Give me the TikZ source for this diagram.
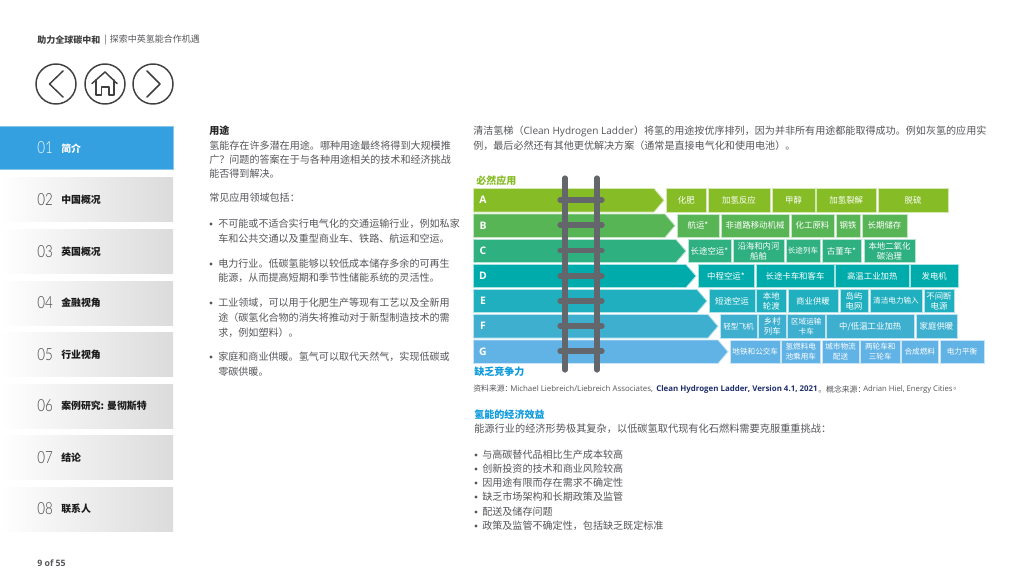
\documentclass[tikz,border=0pt]{standalone}
\usepackage{fontspec}
\setmainfont{Noto Sans CJK SC}
\newfontfamily\lat{Open Sans}
\newfontfamily\thinf{Lato Light}
\usetikzlibrary{calc}
\definecolor{cA}{HTML}{86BC25}\definecolor{cB}{HTML}{58B556}\definecolor{cC}{HTML}{2FB080}
\definecolor{cD}{HTML}{00ABAB}\definecolor{cE}{HTML}{20AFBF}\definecolor{cF}{HTML}{3FAFD0}\definecolor{cG}{HTML}{62B3E5}
\definecolor{body}{HTML}{55565A}\definecolor{rail}{HTML}{63666A}\definecolor{navy}{HTML}{1F2F6B}\definecolor{hblue}{HTML}{0D9BDD}
\definecolor{icon}{HTML}{404042}\definecolor{navblue}{HTML}{35A0DF}
\newcommand{\sm}{\fontsize{5.7}{7.6}\selectfont}
\tikzset{
 txt/.style={anchor=west,inner sep=0pt,text=body,font=\fontsize{7.55}{9}\selectfont},
 head/.style={txt,text=black!85,font=\fontsize{7.55}{9}\selectfont\bfseries},
 srctxt/.style={anchor=west,inner sep=0pt,text=body,font=\fontsize{5.9}{7}\selectfont},
 bul/.style={circle,fill=body,inner sep=0pt,minimum size=2.4pt},
 cell/.style={draw=#1!35!white,fill=#1,line width=.6pt},
 celltext/.style={text=white,align=center,inner sep=0pt,font=\fontsize{6.3}{7.6}\selectfont},
 smalltext/.style={text=white,align=center,inner sep=0pt,font=\sm},
 arrowbar/.style={draw=#1!35!white,fill=#1,line width=.6pt},
 navnum/.style={anchor=west,inner sep=0pt,font=\fontsize{12.5}{14}\thinf,text=black!75},
 navlab/.style={anchor=west,inner sep=0pt,font=\fontsize{7.4}{9}\selectfont\bfseries,text=black!90},
 navbox/.style={left color=white,right color=black!14,draw=none},
 ic/.style={draw=icon,line width=1.1pt,line join=round,line cap=round},
 railline/.style={draw=rail,line width=3.9pt,line cap=round},
}
\newcommand{\cellbox}[6]{\draw[cell=#5] (#1,#3) rectangle (#2,#4) node[midway,celltext]{#6};}
\newcommand{\smallcell}[6]{\draw[cell=#5] (#1,#3) rectangle (#2,#4) node[midway,smalltext]{#6};}
\newcommand{\ladderbar}[5]{\draw[arrowbar=#4] (473.5,#1) -- (#3-10,#1) -- (#3,{(#1+#2)/2}) -- (#3-10,#2) -- (473.5,#2) -- cycle;
 \node[anchor=center,inner sep=0pt,text=white,font=\fontsize{7.8}{9}\lat\bfseries] at (483,{(#1+#2)/2}) {#5};}
\newcommand{\navrow}[3]{\fill[navbox] (0,#1) rectangle (173,#1+44);
 \node[navnum] (num#2) at (37,#1+22) {\scalebox{.8}[1]{#2}};
 \node[navlab] (lab#2) at (61,#1+22) {#3};}
\begin{document}
\begin{tikzpicture}[x=.75pt,y=-.75pt]
\useasboundingbox (0,0) rectangle (1024,576);
\fill[white] (0,0) rectangle (1024,576);
% header
\node[anchor=west,inner sep=0pt,font=\fontsize{6.75}{8}\selectfont\bfseries,text=black!75] (title) at (37,40) {助力全球碳中和};
\node[anchor=west,inner sep=0pt,font=\fontsize{6.75}{8}\selectfont,text=body] (title2) at (104,40) {|\hspace{2.4pt}探索中英氢能合作机遇};
% icons
\draw[ic] (56,84) circle (20);
\draw[ic] (105,84) circle (20);
\draw[ic] (153,84) circle (20);
\draw[ic] (63,71) -- (49.5,84) -- (63,97);
\draw[ic] (147,71) -- (160,84) -- (147,97);
\draw[ic] (92,83.5) -- (105,72) -- (117,83.5);
\draw[ic] (96,80) -- (96,95) -- (101.5,95) -- (101.5,87) -- (109,87) -- (109,95) -- (114,95) -- (114,80);
% nav
\fill[fill=navblue,draw=navblue!60!white,line width=.5pt] (-1,126) rectangle (173,169.5);
\node[navnum,text=white] (num01) at (37,148) {\scalebox{.8}[1]{01}};
\node[navlab,text=white] (lab01) at (61,149) {简介};
\navrow{177.5}{02}{中国概况}
\navrow{229.5}{03}{英国概况}
\navrow{281}{04}{金融视角}
\navrow{332.5}{05}{行业视角}
\navrow{384}{06}{案例研究: 曼彻斯特}
\navrow{435.5}{07}{结论}
\navrow{487}{08}{联系人}
% page no
\node[anchor=west,inner sep=0pt,font=\fontsize{6.6}{8}\lat\bfseries,text=body] (page) at (37,563) {9 of 55};
% left column
\node[head] (u0) at (209,131) {用途};
\node[txt] (u1) at (209,146) {氢能存在许多潜在用途。哪种用途最终将得到大规模推};
\node[txt] (u2) at (209,160) {广？问题的答案在于与各种用途相关的技术和经济挑战};
\node[txt] (u3) at (209,174) {能否得到解决。};
\node[txt] (u4) at (209,198) {常见应用领域包括：};
\foreach \y in {224,264,303,357} \node[bul] at (211,\y) {};
\node[txt] at (218,224) {不可能或不适合实行电气化的交通运输行业，例如私家};
\node[txt] at (218,239) {车和公共交通以及重型商业车、铁路、航运和空运。};
\node[txt] at (218,264) {电力行业。低碳氢能够以较低成本储存多余的可再生};
\node[txt] at (218,278) {能源，从而提高短期和季节性储能系统的灵活性。};
\node[txt] at (218,303) {工业领域，可以用于化肥生产等现有工艺以及全新用};
\node[txt] at (218,318) {途（碳氢化合物的消失将推动对于新型制造技术的需};
\node[txt] at (218,333) {求，例如塑料）。};
\node[txt] at (218,357) {家庭和商业供暖。氢气可以取代天然气，实现低碳或};
\node[txt] at (218,372) {零碳供暖。};
% right text
\node[txt] (r1) at (473,131) {清洁氢梯（{\lat Clean Hydrogen Ladder}）将氢的用途按优序排列，因为并非所有用途都能取得成功。例如灰氢的应用实};
\node[txt] (r2) at (473,146) {例，最后必然还有其他更优解决方案（通常是直接电气化和使用电池）。};
\node[anchor=west,inner sep=0pt,font=\fontsize{7.5}{9}\selectfont\bfseries,text=cA] (must) at (476,181) {必然应用};
\node[anchor=west,inner sep=0pt,font=\fontsize{7.5}{9}\selectfont\bfseries,text=hblue] (lack) at (474,372) {缺乏竞争力};
% bars
\ladderbar{188.5}{212}{664}{cA}{A}
\ladderbar{214}{237.5}{675}{cB}{B}
\ladderbar{239.5}{262.5}{686}{cC}{C}
\ladderbar{264.5}{287.5}{696}{cD}{D}
\ladderbar{289.5}{312.5}{707}{cE}{E}
\ladderbar{314.5}{338}{718}{cF}{F}
\ladderbar{340}{363.5}{728}{cG}{G}
% cells
\cellbox{666.5}{706}{188.5}{212}{cA}{化肥}
\cellbox{708}{770}{188.5}{212}{cA}{加氢反应}
\cellbox{772}{815}{188.5}{212}{cA}{甲醇}
\cellbox{816.5}{876}{188.5}{212}{cA}{加氢裂解}
\cellbox{878}{948}{188.5}{212}{cA}{脱硫}
\cellbox{677}{719}{214}{237.5}{cB}{航运*}
\cellbox{721}{789}{214}{237.5}{cB}{非道路移动机械}
\cellbox{791}{834}{214}{237.5}{cB}{化工原料}
\cellbox{836}{860}{214}{237.5}{cB}{钢铁}
\cellbox{862}{907}{214}{237.5}{cB}{长期储存}
\cellbox{688}{731}{239.5}{262.5}{cC}{长途空运*}
\cellbox{733}{784}{239.5}{262.5}{cC}{沿海和内河\\船舶}
\smallcell{786}{820}{239.5}{262.5}{cC}{长途列车}
\cellbox{822}{861}{239.5}{262.5}{cC}{古董车*}
\cellbox{864}{915}{239.5}{262.5}{cC}{本地二氧化\\碳治理}
\cellbox{698}{754}{264.5}{287.5}{cD}{中程空运*}
\cellbox{756}{834}{264.5}{287.5}{cD}{长途卡车和客车}
\cellbox{835.5}{909}{264.5}{287.5}{cD}{高温工业加热}
\cellbox{910.5}{958}{264.5}{287.5}{cD}{发电机}
\cellbox{709}{755}{289.5}{312.5}{cE}{短途空运}
\cellbox{756.5}{786}{289.5}{312.5}{cE}{本地\\轮渡}
\cellbox{788}{838}{289.5}{312.5}{cE}{商业供暖}
\cellbox{840}{868}{289.5}{312.5}{cE}{岛屿\\电网}
\smallcell{870}{922}{289.5}{312.5}{cE}{清洁电力输入}
\cellbox{924}{954}{289.5}{312.5}{cE}{不间断\\电源}
\smallcell{720}{757}{314.5}{338}{cF}{轻型飞机}
\cellbox{758.5}{786}{314.5}{338}{cF}{乡村\\列车}
\smallcell{787.5}{825}{314.5}{338}{cF}{区域运输\\卡车}
\cellbox{826.5}{914}{314.5}{338}{cF}{中/低温工业加热}
\cellbox{916}{957}{314.5}{338}{cF}{家庭供暖}
\smallcell{730.5}{780}{340}{363.5}{cG}{地铁和公交车}
\smallcell{781.5}{820}{340}{363.5}{cG}{氢燃料电\\池乘用车}
\smallcell{822}{859}{340}{363.5}{cG}{城市物流\\配送}
\smallcell{860.5}{900}{340}{363.5}{cG}{两轮车和\\三轮车}
\smallcell{901.5}{938}{340}{363.5}{cG}{合成燃料}
\smallcell{940}{984}{340}{363.5}{cG}{电力平衡}
% ladder
\foreach \y in {200,225,250.5,276,301,326,351} \draw[railline] (560,\y) -- (602,\y);
\draw[railline] (565,178) -- (565,370);
\draw[railline] (597,178) -- (597,370);
% source
\node[srctxt] (src1) at (473,389) {资料来源：};
\node[srctxt] (src2) at (510,389) {\resizebox{107pt}{!}{\lat Michael Liebreich/Liebreich Associates,}};
\node[srctxt] (src3) at (656,389) {\resizebox{121pt}{!}{\lat\bfseries\color{navy}Clean Hydrogen Ladder, Version 4.1, 2021}};
\node[srctxt] (src4) at (818,389) {。概念来源：};
\node[srctxt] (src5) at (863,389) {\resizebox{67pt}{!}{\lat Adrian Hiel, Energy Cities}};
\node[srctxt] (src6) at (953,389) {。};
% economics
\node[anchor=west,inner sep=0pt,font=\fontsize{7.55}{9}\selectfont\bfseries,text=hblue] (eco) at (474,415) {氢能的经济效益};
\node[txt,font=\fontsize{7.65}{9}\selectfont] (eco1) at (474,429) {能源行业的经济形势极其复杂，以低碳氢取代现有化石燃料需要克服重重挑战：};
\foreach \y/\t in {455/与高碳替代品相比生产成本较高,469/创新投资的技术和商业风险较高,483/因用途有限而存在需求不确定性,497/缺乏市场架构和长期政策及监管,512/配送及储存问题,526/{政策及监管不确定性，包括缺乏既定标准}}{
 \node[bul] at (476,\y) {};
 \node[txt] at (482,\y) {\t};
}
\end{tikzpicture}
\end{document}
